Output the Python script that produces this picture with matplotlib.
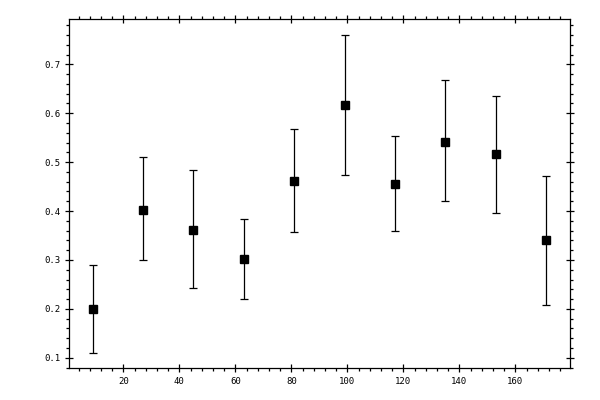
import numpy as np
import matplotlib.pyplot as plt
from matplotlib.ticker import MultipleLocator

# data
x = [9, 27, 45, 63, 81, 99, 117, 135, 153, 171]
y = [0.200, 0.403, 0.362, 0.301, 0.462, 0.616, 0.456, 0.542, 0.516, 0.340]
y_low = [0.109, 0.300, 0.242, 0.221, 0.358, 0.473, 0.360, 0.420, 0.397, 0.207]
y_high = [0.290, 0.510, 0.483, 0.383, 0.568, 0.759, 0.553, 0.667, 0.635, 0.471]

err_lo = np.array(y) - np.array(y_low)
err_hi = np.array(y_high) - np.array(y)

fig = plt.figure(figsize=(6, 4), dpi=100)
ax = fig.add_axes([0.1155, 0.079, 0.835, 0.8735])

ax.errorbar(x, y, yerr=[err_lo, err_hi], fmt='s', color='black',
            ms=6, capsize=3, elinewidth=0.9, capthick=0.9)

ax.set_xlim(0.7, 179.6)
ax.set_ylim(0.0783, 0.7926)

ax.xaxis.set_major_locator(MultipleLocator(20))
ax.xaxis.set_minor_locator(MultipleLocator(4))
ax.yaxis.set_major_locator(MultipleLocator(0.1))
ax.yaxis.set_minor_locator(MultipleLocator(0.02))
ax.yaxis.set_major_formatter(plt.FuncFormatter(lambda v, p: f'{v:.1f}'))

ax.tick_params(which='major', direction='inout', length=6, width=0.9,
               top=True, right=True, labelsize=6.5, pad=3)
ax.tick_params(which='minor', direction='out', length=2.3, width=0.9,
               top=True, right=True)
for lab in ax.get_xticklabels() + ax.get_yticklabels():
    lab.set_family('DejaVu Sans Mono')
for s in ax.spines.values():
    s.set_linewidth(0.9)

fig.savefig('out.png', dpi=100)
